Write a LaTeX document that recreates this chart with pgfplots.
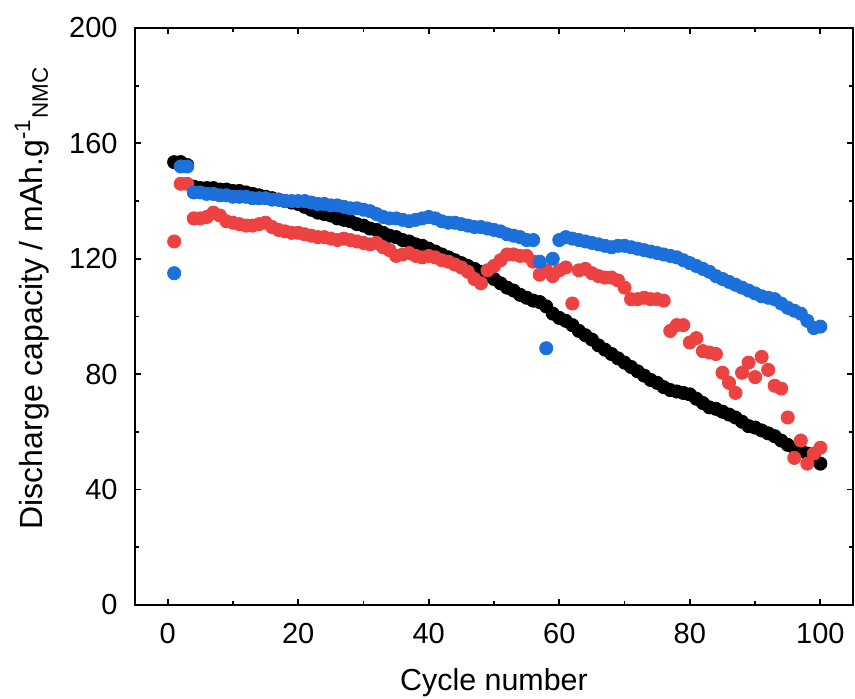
\documentclass[border=0pt]{standalone}
\usepackage{fontspec}
\setmainfont{Liberation Sans}
\usepackage{pgfplots}
\usepackage{pgfplotstable}
\pgfplotsset{compat=1.18}
\definecolor{cblue}{RGB}{27,112,220}
\definecolor{cred}{RGB}{237,66,66}
\pgfplotstableread{
c k r b
1 153.5 126 115
2 153.5 146 152
3 152.5 146 152
4 145 134 143
5 144.5 134 143
6 144.5 134.5 142.5
7 144.5 136 142.5
8 144 135 142
9 144 133 142
10 143.5 132.5 141.5
11 143.5 132 141.5
12 143 131.5 141.5
13 142.5 131.5 141
14 142 132 141
15 141.5 132.5 141
16 141 131 140.5
17 140.5 130 140.5
18 140 129.5 140
19 139.5 129 140
20 139 129 140
21 138 128.5 140
22 137 128 139.5
23 136 127.5 139
24 135.5 127.5 139
25 135 127 138.5
26 134 126.5 138.5
27 133.5 127 138
28 133 126.5 137.5
29 132 126 137.5
30 131.5 125.5 137
31 130.5 125 136.5
32 130 125.5 135.5
33 129 124 134.5
34 128 123 134
35 127.5 121 134
36 126.5 121.5 133.5
37 126 122 133
38 125 121 133.5
39 124.5 120.5 134
40 123.5 121 134.5
41 122.5 120.5 134
42 121.5 119.5 133
43 120.5 119 132.5
44 119.5 118 132.5
45 118.5 117 132
46 117.5 115.5 131.5
47 116.5 113 131
48 115.5 111.5 131
49 114.5 116 130.5
50 113 117.5 130
51 111.5 119.5 129.5
52 110 121.5 128.5
53 109 121.5 128
54 107.5 121 127.5
55 106.5 121 126.5
56 105.5 119 126.5
57 105 114.5 119
58 103.5 116 89
59 101 114 120
60 99.5 116 126.5
61 98.5 117 127.5
62 97 104.5 127
63 95 116 126.5
64 93.5 116.5 126
65 92 115 125.5
66 90 114 125
67 88.5 113.5 124.5
68 87 113.5 124
69 85.5 112.5 124.5
70 84 110 124.5
71 82.5 106 124
72 81 106 123.5
73 79.5 106.5 123
74 78 106 122.5
75 77 106 122
76 75.5 105.5 121.5
77 74.5 95 121
78 74 97 120.5
79 73.5 97 119.5
80 73 91 118.5
81 71.5 92.5 117.5
82 70 88 116.5
83 68.5 87.5 115.5
84 68 87 114
85 67 80.5 113
86 66 77 112
87 65 73.5 111
88 63.5 80.5 110
89 62 84 109
90 61.5 79 108
91 60.5 86 107
92 59.5 81.5 106.5
93 58.5 76 106
94 57 75 104.5
95 55.5 65 103
96 54.5 51 102
97 53.5 57 101
98 52.5 49 98.5
99 52 52.5 96
100 49 54.5 96.5
}\data

\begin{document}
\fontsize{14.5}{17}\selectfont
\begin{tikzpicture}
\begin{axis}[
 scale only axis, width=359pt, height=288.5pt,
 xmin=-5, xmax=105, ymin=0, ymax=200,
 xtick={0,20,...,100}, ytick={0,40,...,200},
 minor x tick num=1, minor y tick num=1,
 tick align=inside,
 major tick length=3pt, minor tick length=2pt,
 tick style={line width=0.9pt, black},
 axis line style={line width=1pt},
 /pgf/number format/assume math mode=true,
 tick label style={font=\fontsize{14.5}{17}\selectfont, inner sep=0pt},
 xticklabel style={anchor=base, yshift=-19.5pt},
 yticklabel style={anchor=east, xshift=-8.5pt},
 xlabel={Cycle number},
 ylabel={Discharge capacity / mAh.g\textsuperscript{-1}\textsubscript{NMC}},
 every axis x label/.style={at={(axis description cs:0.5,0)}, anchor=center, yshift=-39pt, font=\fontsize{15.2}{18}\selectfont},
 every axis y label/.style={at={(axis description cs:0,0.5)}, anchor=center, xshift=-51.5pt, yshift=9.25pt, rotate=90, font=\fontsize{16}{19}\selectfont},
 every axis plot/.append style={only marks, mark=*, mark size=3.3pt},
]
\addplot[black, mark options={fill=black, draw=black}] table[x=c, y=k] {\data};
\addplot[cred, mark options={fill=cred, draw=cred}] table[x=c, y=r] {\data};
\addplot[cblue, mark options={fill=cblue, draw=cblue}] table[x=c, y=b] {\data};
\end{axis}
\pgfresetboundingbox
\path ([xshift=-67.5pt,yshift=-47pt]current axis.south west) rectangle ([xshift=1pt,yshift=14pt]current axis.north east);
\end{tikzpicture}
\end{document}
